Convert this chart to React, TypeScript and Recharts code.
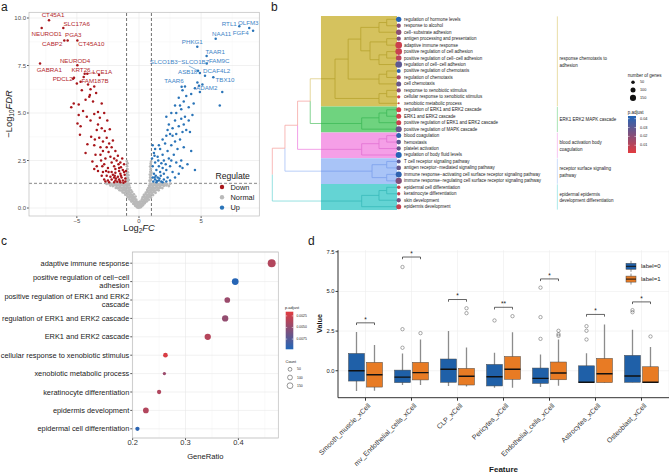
import React from "react";
import {
  ScatterChart,
  Scatter,
  ComposedChart,
  Bar,
  XAxis,
  YAxis,
  CartesianGrid,
  ReferenceLine,
  ReferenceArea,
} from "recharts";

const FONT = "'Liberation Sans', Arial, Helvetica, sans-serif";

// ---------- a: volcano ----------
const DOWN_PTS: [number, number][] = [
  [-5.3, 6.8], [-5.0, 6.55], [-4.7, 6.65], [-4.45, 6.9], [-4.1, 6.5], [-3.9, 6.25], [-3.6, 6.4], [-3.45, 6.05],
  [-3.95, 5.95], [-4.6, 6.2], [-5.25, 5.5], [-5.45, 5.3], [-4.85, 5.45], [-4.3, 5.7], [-4.0, 5.85], [-3.7, 5.6],
  [-3.3, 5.05], [-4.5, 5.1], [-4.85, 4.9], [-4.95, 4.45], [-4.7, 4.3], [-4.75, 3.85], [-4.2, 4.8], [-3.9, 4.6],
  [-3.6, 4.95], [-3.3, 4.4], [-3.0, 4.2], [-2.75, 4.05], [-3.4, 4.1], [-3.85, 3.75], [-3.2, 3.7], [-2.9, 3.5],
  [-2.6, 3.7], [-2.4, 3.4], [-4.15, 3.35], [-3.6, 3.3], [-3.1, 3.2], [-2.2, 3.2], [-2.9, 3.0], [-2.45, 2.95],
  [-2.1, 3.55], [-1.9, 3.0], [-4.3, 2.9], [-3.5, 2.8], [-2.7, 2.6], [-3.05, 2.5], [-2.3, 2.7], [-1.8, 2.5],
  [-1.5, 2.4], [-1.2, 2.3], [-3.75, 2.45], [-3.4, 2.2], [-2.8, 2.3], [-2.5, 2.1], [-2.0, 2.2], [-1.6, 2.1],
  [-1.3, 2.0], [-3.3, 1.95], [-2.9, 1.9], [-2.2, 1.9], [-1.9, 1.85], [-1.5, 1.8], [-1.15, 1.75], [-3.0, 1.7],
  [-2.6, 1.7], [-2.3, 1.65], [-2.0, 1.6], [-1.7, 1.65], [-1.4, 1.6], [-1.1, 1.55], [-2.8, 1.5], [-2.5, 1.45],
  [-2.2, 1.5], [-1.9, 1.45], [-1.6, 1.5], [-1.3, 1.45], [-1.1, 1.4], [-2.4, 1.35], [-2.0, 1.35], [-1.75, 1.38],
  [-1.5, 1.35], [-1.25, 1.33], [-2.7, 1.4], [-1.85, 1.55], [-1.45, 1.7], [-1.2, 1.9], [-2.1, 1.75], [-2.45, 1.9],
  [-1.65, 2.3], [-2.6, 3.2], [-3.1, 2.8], [-2.0, 2.6], [-1.35, 2.6], [-2.2, 2.4], [-3.55, 3.6], [-2.35, 4.15],
  [-3.15, 4.75], [-2.55, 4.6], [-2.8, 5.0], [-3.0, 5.5], [-1.7, 2.75], [-1.45, 2.15], [-1.05, 1.95], [-1.6, 1.95],
  [-2.65, 1.95], [-3.6, 2.05], [-2.95, 2.2], [-1.9, 2.05], [-1.55, 1.42], [-1.95, 1.7],
];

const UP_PTS: [number, number][] = [
  [1.1, 3.3], [1.2, 2.9], [1.05, 2.6], [1.3, 2.4], [1.1, 2.2], [1.5, 2.7], [1.7, 3.1], [1.9, 2.8], [2.1, 3.4],
  [2.3, 3.0], [2.0, 2.5], [1.6, 2.2], [1.4, 2.0], [1.2, 1.8], [1.1, 1.6], [1.3, 1.5], [1.15, 1.4], [1.4, 1.35],
  [1.6, 1.45], [1.8, 1.4], [2.0, 1.5], [1.5, 1.6], [1.75, 1.7], [2.0, 1.8], [2.3, 1.6], [2.2, 2.0], [2.5, 2.2],
  [2.7, 1.9], [2.4, 2.6], [2.8, 2.8], [1.9, 2.1], [1.7, 1.9], [2.5, 1.45], [2.9, 1.6], [3.2, 1.8], [3.5, 2.1],
  [3.9, 2.3], [4.5, 2.0], [3.4, 2.5], [3.0, 2.4], [2.6, 3.3], [2.9, 3.5], [2.7, 3.8], [3.1, 3.1], [3.3, 3.6],
  [2.5, 3.9], [3.6, 3.2], [4.2, 3.0], [3.8, 4.1], [4.1, 4.0], [3.5, 4.0], [3.2, 4.3], [2.9, 4.6], [2.4, 4.4],
  [2.2, 4.8], [2.6, 5.0], [3.0, 5.0], [3.4, 4.7], [3.7, 4.8], [4.3, 4.9], [2.9, 5.4], [3.3, 5.4], [3.6, 5.6],
  [4.0, 5.3], [3.2, 5.8], [3.5, 6.2], [3.8, 5.9], [4.2, 6.0], [4.5, 6.3], [3.4, 5.2], [4.4, 5.5], [2.7, 4.2],
  [3.0, 3.9], [4.0, 4.6], [3.6, 4.4], [6.7, 6.1], [6.5, 5.4], [4.9, 6.1], [5.1, 6.5], [4.7, 6.6], [3.7, 6.4],
  [2.3, 4.1], [1.9, 3.6], [2.2, 3.8], [1.6, 3.3], [1.3, 3.1], [1.9, 1.35], [2.2, 1.4], [1.35, 1.7], [2.6, 2.5],
  [3.3, 2.2], [2.15, 2.3], [1.55, 2.5], [1.25, 2.75], [1.8, 2.35], [1.45, 1.42], [1.65, 1.55], [1.25, 1.6],
];

const NORMAL_PTS: [number, number][] = [
  [-0.15, 0.04], [-0.05, 0.02], [0.06, 0.03], [0.16, 0.05],
  [-0.3, 0.12], [-0.2, 0.1], [-0.1, 0.13], [0.0, 0.09], [0.1, 0.12], [0.21, 0.1], [0.31, 0.14],
  [-0.46, 0.22], [-0.35, 0.2], [-0.24, 0.24], [-0.12, 0.21], [0.02, 0.2], [0.13, 0.23], [0.25, 0.2], [0.36, 0.22], [0.45, 0.25],
  [-0.61, 0.34], [-0.5, 0.36], [-0.4, 0.32], [-0.29, 0.35], [-0.18, 0.33], [-0.05, 0.3], [0.07, 0.33], [0.2, 0.35], [0.31, 0.31], [0.42, 0.36], [0.52, 0.33], [0.63, 0.35],
  [-0.76, 0.46], [-0.65, 0.44], [-0.55, 0.48], [-0.45, 0.45], [-0.34, 0.47], [-0.22, 0.44], [0.24, 0.46], [0.36, 0.43], [0.47, 0.47], [0.58, 0.45], [0.68, 0.48], [0.79, 0.44],
  [-0.92, 0.58], [-0.81, 0.56], [-0.7, 0.6], [-0.6, 0.57], [-0.5, 0.59], [-0.4, 0.56], [-0.28, 0.6], [0.3, 0.57], [0.42, 0.6], [0.52, 0.56], [0.63, 0.59], [0.74, 0.57], [0.85, 0.6], [0.96, 0.56],
  [-1.1, 0.7], [-0.99, 0.68], [-0.88, 0.72], [-0.76, 0.69], [-0.64, 0.71], [-0.52, 0.68], [-0.41, 0.72], [0.4, 0.69], [0.53, 0.72], [0.65, 0.68], [0.77, 0.71], [0.9, 0.69], [1.02, 0.72], [1.13, 0.68],
  [-1.31, 0.82], [-1.18, 0.8], [-1.05, 0.84], [-0.93, 0.81], [-0.8, 0.83], [-0.68, 0.8], [-0.55, 0.84], [0.55, 0.81], [0.68, 0.84], [0.8, 0.8], [0.94, 0.83], [1.06, 0.81], [1.2, 0.84], [1.33, 0.8],
  [-1.56, 0.94], [-1.43, 0.92], [-1.3, 0.96], [-1.17, 0.93], [-1.04, 0.95], [-0.9, 0.92], [-0.77, 0.96], [-0.64, 0.93], [0.66, 0.95], [0.8, 0.92], [0.92, 0.96], [1.05, 0.93], [1.18, 0.95], [1.32, 0.92], [1.45, 0.96], [1.58, 0.93],
  [-1.86, 1.06], [-1.7, 1.04], [-1.56, 1.08], [-1.42, 1.05], [-1.28, 1.07], [-1.14, 1.04], [-1.0, 1.08], [-0.86, 1.05], [-0.73, 1.07], [0.75, 1.05], [0.88, 1.08], [1.02, 1.04], [1.16, 1.07], [1.3, 1.05], [1.44, 1.08], [1.58, 1.04], [1.72, 1.07], [1.88, 1.05],
  [-2.3, 1.18], [-2.1, 1.16], [-1.95, 1.2], [-1.8, 1.17], [-1.65, 1.19], [-1.5, 1.16], [-1.35, 1.2], [-1.2, 1.17], [-1.06, 1.19], [-0.92, 1.16], [-0.8, 1.2], [0.82, 1.17], [0.95, 1.19], [1.1, 1.16], [1.24, 1.2], [1.38, 1.17], [1.52, 1.19], [1.68, 1.16], [1.84, 1.2], [2.0, 1.17], [2.2, 1.19], [2.4, 1.16],
  [-2.6, 1.27], [-2.4, 1.29], [-2.2, 1.26], [-2.0, 1.28], [-1.85, 1.25], [-1.7, 1.29], [-1.55, 1.27], [-1.4, 1.28], [-1.25, 1.26], [-1.1, 1.29], [-0.95, 1.27], [-0.85, 1.28], [0.88, 1.28], [1.0, 1.26], [1.15, 1.29], [1.3, 1.27], [1.45, 1.28], [1.6, 1.25], [1.75, 1.29], [1.9, 1.27], [2.05, 1.28], [2.25, 1.26], [2.5, 1.28],
  [-0.98, 1.45], [-0.9, 1.42], [-0.82, 1.47], [0.85, 1.44], [0.93, 1.46], [-0.99, 1.6], [-0.88, 1.58], [0.9, 1.61], [0.97, 1.57],
  [-0.95, 1.75], [-0.86, 1.73], [0.88, 1.76], [0.96, 1.74], [-0.97, 1.9], [-0.9, 1.88], [0.92, 1.91], [0.99, 1.87],
  [-0.93, 2.05], [0.95, 2.04], [-0.96, 2.2], [0.9, 2.18], [0.98, 2.22], [-0.92, 2.35], [0.94, 2.33], [-0.98, 2.47], [0.97, 2.44],
];

const DOWN_GENES = ["CT45A1", "NEUROD1", "SLC17A6", "PGA3", "CABP2", "CT45A10", "NEUROD4", "GABRA1", "KRT26", "LCE1A", "PDCL2", "FAM187B"];
const DOWN_GENE_FC = [-7.24, -7.83, -6.09, -6.01, -5.74, -4.96, -4.96, -7.96, -4.37, -4.16, -5.23, -3.22];
const DOWN_GENE_FDR = [9.88, 9.47, 9.47, 8.82, 8.82, 8.82, 7.51, 7.6, 7.07, 7.07, 6.86, 7.0];

const UP_GENES = ["RTL1", "OLFM3", "FGF4", "NAA11", "PHKG1", "TAAR1", "FAM9C", "SLCO1B3−SLCO1B7", "ASB18", "DCAF4L2", "TBX10", "TAAR6", "ADAM2"];
const UP_GENE_FC = [8.07, 8.87, 9.18, 6.17, 4.69, 5.44, 5.45, 4.75, 4.9, 5.31, 5.98, 3.43, 4.83];
const UP_GENE_FDR = [9.56, 9.47, 9.33, 8.91, 8.49, 8.0, 7.6, 7.23, 7.1, 6.96, 6.88, 6.38, 6.44];

// ggrepel-like label offsets (px)
const LABEL_NUDGE: Record<string, [number, number]> = {
  CT45A1: [4, -5.3], NEUROD1: [5, 5.3], SLC17A6: [13.4, -4.7], PGA3: [9, -6], CABP2: [-15.4, 3],
  CT45A10: [14, 3], NEUROD4: [-2.3, -5], GABRA1: [9.3, 5.6], KRT26: [-3.7, -4], LCE1A: [15, -2.4],
  PDCL2: [-11.3, 0.6], FAM187B: [-4, 5.3],
  RTL1: [-10, -3], OLFM3: [-1, -5.7], FGF4: [-12.4, 2], NAA11: [6, -5.4], PHKG1: [-5, -4.7],
  TAAR1: [8.7, -4.7], FAM9C: [12.5, -3.5], "SLCO1B3−SLCO1B7": [-18.5, -9.5], ASB18: [-12.2, -1.8],
  DCAF4L2: [11.7, -5.1], TBX10: [11.7, 2], TAAR6: [-7.6, -6.5], ADAM2: [7.7, 1.4],
};
const CONNECTED = ["LCE1A", "SLCO1B3−SLCO1B7"];

const A_X_TICKS = [-5, 0, 5];
const A_X_MINOR = [-7.5, -2.5, 2.5, 7.5];
const A_Y_TICKS = [0, 2.5, 5, 7.5, 10];
const A_Y_MINOR = [1.25, 3.75, 6.25, 8.75];

const DOWN_COL = "#a8161b";
const UP_COL = "#2a74b8";
const NORMAL_COL = "#b9b9b9";

// ---------- b: enrichment tree ----------
const B_TERMS = [
  "regulation of hormone levels", "response to alcohol", "cell−substrate adhesion", "antigen processing and presentation",
  "adaptive immune response", "positive regulation of cell adhesion", "positive regulation of cell−cell adhesion",
  "regulation of cell−cell adhesion", "positive regulation of chemotaxis", "regulation of chemotaxis", "cell chemotaxis",
  "response to xenobiotic stimulus", "cellular response to xenobiotic stimulus", "xenobiotic metabolic process",
  "regulation of ERK1 and ERK2 cascade", "ERK1 and ERK2 cascade", "positive regulation of ERK1 and ERK2 cascade",
  "positive regulation of MAPK cascade", "blood coagulation", "hemostasis", "platelet activation",
  "regulation of body fluid levels", "T cell receptor signaling pathway", "antigen receptor−mediated signaling pathway",
  "immune response−activating cell surface receptor signaling pathway",
  "immune response−regulating cell surface receptor signaling pathway", "epidermal cell differentiation",
  "keratinocyte differentiation", "skin development", "epidermis development",
];
const B_COUNT = [114, 75, 114, 75, 177, 177, 125, 177, 64, 75, 100, 75, 45, 16, 100, 100, 100, 144, 100, 87, 75, 144, 64, 87, 144, 160, 52, 45, 75, 100];
const B_PADJ = [0.042, 0.02, 0.02, 0.022, 0.006, 0.007, 0.01, 0.03, 0.04, 0.015, 0.028, 0.02, 0.006, 0.006, 0.005, 0.005, 0.006, 0.028, 0.04, 0.03, 0.028, 0.042, 0.03, 0.028, 0.04, 0.022, 0.008, 0.008, 0.025, 0.008];

// merges: [id, left, right, height]
const B_MERGES: [string, string, string, number][] = [
  ["y1", "t0", "t1", 0.095], ["y2", "y1", "t2", 0.156], ["y3", "t3", "t4", 0.095], ["y4", "t5", "t6", 0.095],
  ["y5", "y4", "t7", 0.156], ["y6", "y3", "y5", 0.227], ["y7", "y2", "y6", 0.3], ["y8", "t8", "t9", 0.095],
  ["y9", "y8", "t10", 0.156], ["y10", "y7", "y9", 0.4], ["y11", "t11", "t12", 0.095], ["y12", "y11", "t13", 0.156],
  ["y13", "y10", "y12", 0.504],
  ["g1", "t14", "t15", 0.095], ["g2", "g1", "t16", 0.156], ["g3", "g2", "t17", 0.293],
  ["p1", "t18", "t19", 0.095], ["p2", "p1", "t20", 0.156], ["p3", "p2", "t21", 0.293],
  ["b1", "t22", "t23", 0.095], ["b2", "t24", "t25", 0.095], ["b3", "b1", "b2", 0.211],
  ["c1", "t26", "t27", 0.095], ["c2", "c1", "t28", 0.156], ["c3", "c2", "t29", 0.293],
  ["o1", "y13", "g3", 0.7], ["o2", "o1", "p3", 0.8], ["o3", "o2", "b3", 0.9], ["o4", "o3", "c3", 1.0],
];
const B_CLUSTER_ROOTS = ["y13", "g3", "p3", "b3", "c3"];
const B_CLUSTER_FROM = [0, 14, 18, 22, 26];
const B_CLUSTER_TO = [13, 17, 21, 25, 29];
const B_CLUSTER_LABELS = [
  ["response chemotaxis to", "adhesion"], ["ERK1 ERK2 MAPK cascade"], ["blood activation body", "coagulation"],
  ["receptor surface signaling", "pathway"], ["epidermal epidermis", "development differentiation"],
];

const BAND_FILL = ["#d5c25e", "#6fd37f", "#f59fe7", "#a9c4f7", "#64d4d4"];
const BAND_LINE = ["#b6a12c", "#3cb856", "#e26fd2", "#7a9fec", "#36b8b8"];
const BAND_LINK = ["#dccb7c", "#5cc46e", "#ee82e0", "#a2bdf6", "#74d7d7"];
const BAND_BAR = ["#e3d690", "#95dea2", "#f6b8ef", "#c2d5fa", "#98e4e4"];
const SALMON = "#f5a3a0";
const BAND_EDGE = 0.615;
const BAR_H = -1.255;

// ---------- c: dot plot ----------
const C_TERMS = [
  "adaptive immune response", "positive regulation of cell−cell\nadhesion",
  "positive regulation of ERK1 and ERK2\ncascade", "regulation of ERK1 and ERK2 cascade", "ERK1 and ERK2 cascade",
  "cellular response to xenobiotic stimulus", "xenobiotic metabolic process", "keratinocyte differentiation",
  "epidermis development", "epidermal cell differentiation",
];
const C_RATIO = [0.463, 0.394, 0.379, 0.375, 0.342, 0.262, 0.26, 0.25, 0.225, 0.209];
const C_COUNT = [156, 110, 79, 97, 97, 54, 27, 45, 79, 45];
const C_PADJ = [0.0036, 0.0095, 0.0046, 0.0049, 0.0035, 0.002, 0.0046, 0.0037, 0.0036, 0.0093];

// ---------- d: box plots ----------
const FEATURES = [
  "Smooth_muscle_xCell", "mv_Endothelial_cells_xCell", "CLP_xCell", "Pericytes_xCell",
  "Endothelial_cells_xCell", "Astrocytes_xCell", "Osteoblast_xCell",
];
const LO0 = [-1.28, -0.9, -0.96, -1.07, -1.03, -0.73, -0.73];
const Q1_0 = [-0.65, -0.75, -0.73, -0.96, -0.8, -0.73, -0.73];
const MED0 = [0.0, -0.4, 0.09, -0.38, -0.48, -0.73, -0.33];
const Q3_0 = [1.09, 0.04, 0.74, 0.4, 0.17, 0.31, 0.97];
const HI0 = [2.45, 1.09, 2.5, 1.13, 1.03, 1.11, 2.58];
const OUT0 = [[], [6.54, 2.62, 1.45], [], [3.17], [5.24, 3.38, 2.01], [2.81, 2.52, 1.97], [3.82, 3.69]];
const LO1 = [-1.26, -0.9, -1.0, -1.07, -0.94, -0.75, -0.73];
const Q1_1 = [-1.03, -0.58, -0.9, -0.54, -0.57, -0.75, -0.73];
const MED1 = [-0.25, -0.12, -0.35, 0.09, -0.14, -0.19, -0.73];
const Q3_1 = [0.53, 0.53, 0.15, 0.9, 0.55, 0.78, 0.25];
const HI1 = [1.62, 1.97, 1.47, 2.43, 1.97, 2.92, 1.49];
const OUT1 = [[], [2.37], [3.94, 3.63], [3.44], [2.52, 2.3, 2.2], [], [2.16]];
const SIG_Y = [3.02, 7.17, 4.49, 4.0, 5.79, 3.55, 4.34];
const SIG_TXT = ["*", "*", "*", "**", "*", "*", "*"];

const BLUE_BOX = "#1f60a8";
const ORANGE_BOX = "#e87b24";
const BAR_SIZE = 16;
const BAR_GAP = 2;

// ---------- helpers ----------
const RED_END = [226, 59, 63];
const BLUE_END = [33, 102, 184];
function gradient(t: number) {
  const u = Math.max(0, Math.min(1, t));
  const c = RED_END.map((r, k) => Math.round(r + (BLUE_END[k] - r) * u));
  return `rgb(${c[0]},${c[1]},${c[2]})`;
}
const colorB = (p: number) => gradient((p - 0.0013) / (0.043 - 0.0013));
const colorC = (p: number) => gradient((p - 0.0016) / (0.0097 - 0.0016));
const radiusB = (n: number) => 0.25 * Math.sqrt(n);
const radiusC = (n: number) => 0.32 * Math.sqrt(n);
const minus = (v: number) => (v < 0 ? `−${-v}` : `${v}`);

const toPts = (arr: [number, number][]) => arr.map(([x, y]) => ({ x, y }));
const normalData = toPts(NORMAL_PTS);
const downData = toPts(DOWN_PTS);
const upData = toPts(UP_PTS);
const downGeneData = DOWN_GENES.map((gene, i) => ({ gene, x: DOWN_GENE_FC[i], y: DOWN_GENE_FDR[i] }));
const upGeneData = UP_GENES.map((gene, i) => ({ gene, x: UP_GENE_FC[i], y: UP_GENE_FDR[i] }));

const dot = (fill: string, r: number, opacity = 1) => (p: any) =>
  <circle cx={p.cx} cy={p.cy} r={r} fill={fill} fillOpacity={opacity} />;

const geneDot = (fill: string, textFill: string) => (p: any) => {
  const { cx, cy, payload } = p;
  const [dx, dy] = LABEL_NUDGE[payload.gene] ?? [0, -5];
  return (
    <g>
      <circle cx={cx} cy={cy} r={1.25} fill={fill} />
      {CONNECTED.includes(payload.gene) && (
        <line x1={cx} y1={cy} x2={cx + dx * 0.5} y2={cy + dy * 0.5} stroke={textFill} strokeWidth={0.6} />
      )}
      <text x={cx + dx} y={cy + dy} textAnchor="middle" dominantBaseline="central" fontSize={6.2} fill={textFill}>
        {payload.gene}
      </text>
    </g>
  );
};

function VolcanoPanel() {
  const tickStyle = { fontSize: 6, fill: "#4d4d4d" };
  return (
    <div style={{ position: "absolute", left: 0, top: 0 }}>
      <ScatterChart width={268} height={240} margin={{ top: 12.3, right: 8.7, bottom: 0, left: 0 }}>
        <CartesianGrid stroke="#f4f4f4" horizontalValues={A_Y_MINOR} verticalValues={A_X_MINOR} strokeWidth={0.5} />
        <CartesianGrid stroke="#e8e8e8" horizontalValues={A_Y_TICKS} verticalValues={A_X_TICKS} strokeWidth={0.6} />
        <XAxis type="number" dataKey="x" domain={[-8.85, 9.68]} ticks={A_X_TICKS} allowDataOverflow
          tick={tickStyle} tickLine={{ stroke: "#555" }} tickSize={2} tickMargin={1} axisLine={false} height={24}
          tickFormatter={minus} />
        <YAxis type="number" dataKey="y" domain={[-0.42, 10.3]} ticks={A_Y_TICKS} allowDataOverflow width={29}
          tick={tickStyle} tickLine={{ stroke: "#555" }} tickSize={2} tickMargin={1} axisLine={false}
          tickFormatter={(v: number) => v.toFixed(1)} />
        <Scatter data={normalData} shape={dot(NORMAL_COL, 1.4)} isAnimationActive={false} />
        <Scatter data={downData} shape={dot(DOWN_COL, 1.25)} isAnimationActive={false} />
        <Scatter data={upData} shape={dot(UP_COL, 1.25)} isAnimationActive={false} />
        <Scatter data={downGeneData} shape={geneDot(DOWN_COL, "#b3262b")} isAnimationActive={false} />
        <Scatter data={upGeneData} shape={geneDot(UP_COL, "#3d84c6")} isAnimationActive={false} />
        <ReferenceLine x={-1} stroke="#333" strokeDasharray="3 2" strokeWidth={0.7} />
        <ReferenceLine x={1} stroke="#333" strokeDasharray="3 2" strokeWidth={0.7} />
        <ReferenceLine y={1.3} stroke="#555" strokeDasharray="3 2" strokeWidth={0.7} />
      </ScatterChart>
    </div>
  );
}

// tree geometry in data units (height, term index)
const nodeY: Record<string, number> = {};
const nodeH: Record<string, number> = {};
B_TERMS.forEach((_, i) => {
  nodeY["t" + i] = i;
  nodeH["t" + i] = 0;
});
B_MERGES.forEach(([id, l, r, h]) => {
  nodeY[id] = (nodeY[l] + nodeY[r]) / 2;
  nodeH[id] = h;
});
type Seg = { x1: number; y1: number; x2: number; y2: number; color: string };
const treeSegs: Seg[] = [];
const groupOf: Record<string, number> = { y: 0, g: 1, p: 2, b: 3, c: 4 };
B_MERGES.forEach(([id, l, r, h]) => {
  [l, r].forEach((child) => {
    const ny = nodeY[id];
    const cy = nodeY[child];
    const ch = nodeH[child];
    if (id[0] === "o") {
      const k = B_CLUSTER_ROOTS.indexOf(child);
      const col = k >= 0 ? BAND_LINK[k] : SALMON;
      treeSegs.push({ x1: h, y1: ny, x2: h, y2: cy, color: col });
      if (k >= 0) {
        treeSegs.push({ x1: h, y1: cy, x2: BAND_EDGE, y2: cy, color: col });
        treeSegs.push({ x1: BAND_EDGE, y1: cy, x2: ch, y2: cy, color: BAND_LINE[k] });
      } else {
        treeSegs.push({ x1: h, y1: cy, x2: ch, y2: cy, color: SALMON });
      }
    } else {
      const col = BAND_LINE[groupOf[id[0]]];
      treeSegs.push({ x1: h, y1: ny, x2: h, y2: cy, color: col });
      treeSegs.push({ x1: h, y1: cy, x2: ch, y2: cy, color: col });
    }
  });
});
const termData = B_TERMS.map((name, i) => ({ h: 0, i, name, count: B_COUNT[i], padj: B_PADJ[i] }));

const termDot = (p: any) => {
  const { cx, cy, payload } = p;
  return (
    <g>
      <circle cx={cx} cy={cy} r={radiusB(payload.count)} fill={colorB(payload.padj)} />
      <text x={cx + 5.3} y={cy} dominantBaseline="central" fontSize={4.5} fill="#1a1a1a">
        {payload.name}
      </text>
    </g>
  );
};

function TreePanel() {
  return (
    <div style={{ position: "absolute", left: 268, top: 0 }}>
      <ScatterChart width={401} height={220} margin={{ top: 0, right: 0, bottom: 0, left: 0 }}>
        <XAxis type="number" dataKey="h" domain={[-2.138, 1.034]} reversed hide allowDataOverflow />
        <YAxis type="number" dataKey="i" domain={[-2.987, 31.06]} reversed hide allowDataOverflow />
        {B_CLUSTER_FROM.map((f, k) => (
          <ReferenceArea key={"band" + k} x1={BAND_EDGE} x2={0.013} y1={f - 0.5} y2={B_CLUSTER_TO[k] + 0.5}
            fill={BAND_FILL[k]} fillOpacity={1} stroke="none" />
        ))}
        {treeSegs.map((s, k) => (
          <ReferenceLine key={"seg" + k} segment={[{ x: s.x1, y: s.y1 }, { x: s.x2, y: s.y2 }]}
            stroke={s.color} strokeWidth={0.75} />
        ))}
        {B_CLUSTER_FROM.map((f, k) => (
          <ReferenceLine key={"bar" + k} segment={[{ x: BAR_H, y: f - 0.45 }, { x: BAR_H, y: B_CLUSTER_TO[k] + 0.45 }]}
            stroke={BAND_BAR[k]} strokeWidth={0.8} />
        ))}
        <Scatter data={termData} shape={termDot} isAnimationActive={false} />
      </ScatterChart>
    </div>
  );
}

const cData = C_TERMS.map((term, i) => ({ term, ratio: C_RATIO[i], count: C_COUNT[i], padj: C_PADJ[i] }));

const TermTick = ({ x, y, payload }: any) => {
  const lines = String(payload.value).split("\n");
  const first = 0.35 - (lines.length - 1) * 0.54;
  return (
    <text x={x} y={y} textAnchor="end" fontSize={7.4} fill="#1a1a1a" stroke="none">
      {lines.map((ln, k) => (
        <tspan key={k} x={x} dy={k === 0 ? `${first}em` : "1.08em"}>{ln}</tspan>
      ))}
    </text>
  );
};

function DotPanel() {
  return (
    <div style={{ position: "absolute", left: 0, top: 240 }}>
      <ScatterChart width={282} height={233} margin={{ top: 12, right: 3.7, bottom: 0, left: 0 }}>
        <CartesianGrid stroke="#f4f4f4" verticalValues={[0.25, 0.35, 0.45]} horizontal={false} strokeWidth={0.5} />
        <CartesianGrid stroke="#e8e8e8" verticalValues={[0.2, 0.3, 0.4]} strokeWidth={0.6} />
        <XAxis type="number" dataKey="ratio" domain={[0.1993, 0.4755]} ticks={[0.2, 0.3, 0.4]} allowDataOverflow
          tick={{ fontSize: 7.5, fill: "#333" }} tickLine={{ stroke: "#555" }} tickSize={2} tickMargin={0}
          axisLine={false} height={35} />
        <YAxis type="category" dataKey="term" reversed allowDuplicatedCategory={false} width={132.3}
          padding={{ top: 2, bottom: 0 }} tick={<TermTick />} tickLine={{ stroke: "#555" }} tickSize={2}
          tickMargin={1} axisLine={false} interval={0} />
        <Scatter data={cData} isAnimationActive={false}
          shape={(p: any) => (
            <circle cx={p.cx} cy={p.cy} r={radiusC(p.payload.count)} fill={colorC(p.payload.padj)} />
          )} />
      </ScatterChart>
    </div>
  );
}

const boxData = FEATURES.map((feature, k) => ({
  feature,
  g: [
    { lo: LO0[k], q1: Q1_0[k], med: MED0[k], q3: Q3_0[k], hi: HI0[k], out: OUT0[k] },
    { lo: LO1[k], q1: Q1_1[k], med: MED1[k], q3: Q3_1[k], hi: HI1[k], out: OUT1[k] },
  ],
  sig: SIG_Y[k],
  sigText: SIG_TXT[k],
}));

function boxShape(gi: 0 | 1, fill: string) {
  return (props: any) => {
    const { x, y, width, height, payload } = props;
    const s = payload.g[gi];
    const top = Math.min(y, y + height);
    const bot = Math.max(y, y + height);
    const span = s.hi - s.lo || 1;
    const py = (v: number) => top + ((s.hi - v) / span) * (bot - top);
    const cx = x + width / 2;
    const other = cx - width - BAR_GAP;
    return (
      <g>
        <line x1={cx} x2={cx} y1={py(s.hi)} y2={py(s.lo)} stroke="#8c8c8c" strokeWidth={1.3} />
        <rect x={x} y={py(s.q3)} width={width} height={Math.max(0.5, py(s.q1) - py(s.q3))} fill={fill}
          stroke="#4a4a4a" strokeWidth={0.5} />
        <line x1={x} x2={x + width} y1={py(s.med)} y2={py(s.med)} stroke="#111" strokeWidth={1.4} />
        {s.out.map((o: number, k: number) => (
          <circle key={k} cx={cx} cy={py(o)} r={1.7} fill="none" stroke="#555" strokeWidth={0.5} />
        ))}
        {gi === 1 && (
          <g>
            <path d={`M${other},${py(payload.sig) + 2.2}V${py(payload.sig)}H${cx}V${py(payload.sig) + 2.2}`}
              fill="none" stroke="#222" strokeWidth={0.7} />
            <text x={(other + cx) / 2} y={py(payload.sig) - 1.2} textAnchor="middle" fontSize={6.5} fill="#222">
              {payload.sigText}
            </text>
          </g>
        )}
      </g>
    );
  };
}

const FeatureTick = ({ x, y, payload }: any) => (
  <text x={x + 2} y={y} transform={`rotate(-45 ${x + 2} ${y})`} textAnchor="end" dy="0.7em" fontSize={7}
    fill="#333" stroke="none">
    {payload.value}
  </text>
);

function BoxPanel() {
  return (
    <div style={{ position: "absolute", left: 290, top: 240 }}>
      <ComposedChart width={379} height={233} data={boxData} barGap={BAR_GAP}
        margin={{ top: 10.2, right: 0, bottom: 0, left: 0 }}>
        <CartesianGrid stroke="#ececec" horizontalValues={[-1.25, 0, 1.25, 2.5, 3.75, 5, 6.25, 7.5]} strokeWidth={0.6} />
        <XAxis dataKey="feature" type="category" interval={0} padding={{ left: 4.5, right: 4.5 }} height={75.3}
          tick={<FeatureTick />} tickLine={{ stroke: "#333" }} tickSize={3} tickMargin={2}
          axisLine={{ stroke: "#333", strokeWidth: 1 }} />
        <YAxis type="number" domain={[-1.7, 7.6]} ticks={[0, 2.5, 5, 7.5]} allowDataOverflow width={48}
          tick={{ fontSize: 5.8, fill: "#222" }} tickLine={{ stroke: "#333" }} tickSize={2.5} tickMargin={1}
          axisLine={{ stroke: "#333", strokeWidth: 1 }} tickFormatter={(v: number) => v.toFixed(1)} />
        <Bar dataKey={(d: any) => [d.g[0].lo, d.g[0].hi]} barSize={BAR_SIZE} shape={boxShape(0, BLUE_BOX)}
          isAnimationActive={false} />
        <Bar dataKey={(d: any) => [d.g[1].lo, d.g[1].hi]} barSize={BAR_SIZE} shape={boxShape(1, ORANGE_BOX)}
          isAnimationActive={false} />
      </ComposedChart>
    </div>
  );
}

function Overlay() {
  const t = { fill: "#1a1a1a", fontFamily: FONT };
  const clusterY = [58.3, 119.3, 142.3, 168, 193.7];
  return (
    <svg width={669} height={473} style={{ position: "absolute", left: 0, top: 0, pointerEvents: "none" }}>
      <defs>
        <linearGradient id="gb" x1="0" y1="0" x2="0" y2="1">
          <stop offset="0" stopColor={colorB(0.043)} />
          <stop offset="1" stopColor={colorB(0.0013)} />
        </linearGradient>
        <linearGradient id="gc" x1="0" y1="0" x2="0" y2="1">
          <stop offset="0" stopColor={colorC(0.0016)} />
          <stop offset="1" stopColor={colorC(0.0097)} />
        </linearGradient>
      </defs>
      {/* panel letters */}
      <text x={1} y={11} fontSize={12} {...t}>a</text>
      <text x={271} y={11} fontSize={12} {...t}>b</text>
      <text x={1} y={245} fontSize={12} {...t}>c</text>
      <text x={308} y={245} fontSize={12} {...t}>d</text>

      {/* a: frame, titles, legend */}
      <rect x={29} y={12.3} width={230.3} height={203.7} fill="none" stroke="#bcbcbc" strokeWidth={0.7} />
      <text transform="translate(11.5 114) rotate(-90)" textAnchor="middle" fontSize={9.3} {...t}>
        −Log<tspan fontSize={6.5} dy={2}>10</tspan><tspan dy={-2} fontStyle="italic">FDR</tspan>
      </text>
      <text x={139} y={231} textAnchor="middle" fontSize={9.3} {...t}>
        Log<tspan fontSize={6.5} dy={2}>2</tspan><tspan dy={-2} fontStyle="italic">FC</tspan>
      </text>
      <text x={215.5} y={179} fontSize={8.6} {...t}>Regulate</text>
      {[["Down", DOWN_COL], ["Normal", NORMAL_COL], ["Up", UP_COL]].map(([lab, col], k) => (
        <g key={lab}>
          <circle cx={222} cy={187 + k * 10.3} r={2.2} fill={col} />
          <text x={230.5} y={187 + k * 10.3} dominantBaseline="central" fontSize={7.4} {...t}>{lab}</text>
        </g>
      ))}

      {/* b: cluster labels and legends */}
      {B_CLUSTER_LABELS.map((lines, k) => (
        <text key={k} x={559.5} y={clusterY[k]} fontSize={4.5} dominantBaseline="central" {...t}>
          {lines.map((ln, j) => (
            <tspan key={j} x={559.5} dy={j === 0 ? 0 : 6.7}>{ln}</tspan>
          ))}
        </text>
      ))}
      <text x={627.7} y={76.5} fontSize={4.5} {...t}>number of genes</text>
      {[50, 100, 150].map((n, k) => (
        <g key={n}>
          <circle cx={633} cy={82.3 + k * 7.8} r={radiusB(n)} fill="#111" />
          <text x={640} y={82.3 + k * 7.8} fontSize={3.8} dominantBaseline="central" {...t}>{n}</text>
        </g>
      ))}
      <text x={627.7} y={114} fontSize={4.5} {...t}>p.adjust</text>
      <rect x={628} y={116} width={8} height={37} fill="url(#gb)" />
      {[0.04, 0.03, 0.02, 0.01].map((v) => {
        const yy = 153 - ((v - 0.0013) / (0.043 - 0.0013)) * 37;
        return (
          <g key={v}>
            <line x1={628} x2={629.6} y1={yy} y2={yy} stroke="#fff" strokeWidth={0.5} />
            <line x1={634.4} x2={636} y1={yy} y2={yy} stroke="#fff" strokeWidth={0.5} />
            <text x={640} y={yy} fontSize={3.8} dominantBaseline="central" {...t}>{v.toFixed(2)}</text>
          </g>
        );
      })}

      {/* c: frame, title, legends */}
      <rect x={132.3} y={252} width={146} height={186} fill="none" stroke="#bcbcbc" strokeWidth={0.7} />
      <text x={205.3} y={459} textAnchor="middle" fontSize={7.6} {...t}>GeneRatio</text>
      <text x={285} y={309} fontSize={4} {...t}>p.adjust</text>
      <rect x={285.7} y={311.7} width={7.6} height={37.6} fill="url(#gc)" />
      {[0.0025, 0.005, 0.0075].map((v) => {
        const yy = 311.7 + ((v - 0.0016) / (0.0097 - 0.0016)) * 37.6;
        return (
          <g key={v}>
            <line x1={285.7} x2={287.2} y1={yy} y2={yy} stroke="#fff" strokeWidth={0.5} />
            <line x1={291.8} x2={293.3} y1={yy} y2={yy} stroke="#fff" strokeWidth={0.5} />
            <text x={296.5} y={yy} fontSize={3.4} dominantBaseline="central" {...t}>{v.toFixed(4)}</text>
          </g>
        );
      })}
      <text x={285.5} y={363} fontSize={4} {...t}>Count</text>
      {[50, 100, 150].map((n, k) => (
        <g key={n}>
          <circle cx={290} cy={369.3 + k * 8.2} r={1.9 + k * 0.5} fill="none" stroke="#333" strokeWidth={0.5} />
          <text x={297} y={369.3 + k * 8.2} fontSize={3.4} dominantBaseline="central" {...t}>{n}</text>
        </g>
      ))}

      {/* d: titles and legend */}
      <text transform="translate(322 323.5) rotate(-90)" textAnchor="middle" fontSize={7.2} fontWeight="bold" {...t}>Value</text>
      <text x={503.5} y={472} textAnchor="middle" fontSize={8} fontWeight="bold" {...t}>Feature</text>
      {[["label=0", BLUE_BOX], ["label=1", ORANGE_BOX]].map(([lab, col], k) => {
        const cy = 266.3 + k * 12.8;
        return (
          <g key={lab}>
            <line x1={631} x2={631} y1={cy - 5.5} y2={cy + 5.5} stroke="#8c8c8c" strokeWidth={1} />
            <rect x={626} y={cy - 3} width={10} height={6} fill={col} stroke="#4a4a4a" strokeWidth={0.5} />
            <line x1={626} x2={636} y1={cy} y2={cy} stroke="#111" strokeWidth={1} />
            <text x={641} y={cy} fontSize={6} dominantBaseline="central" {...t}>{lab}</text>
          </g>
        );
      })}
    </svg>
  );
}

export default function App() {
  return (
    <div style={{ position: "absolute", left: 0, top: 0, width: 669, height: 473, background: "#fff",
      fontFamily: FONT, overflow: "hidden" }}>
      <VolcanoPanel />
      <TreePanel />
      <DotPanel />
      <BoxPanel />
      <Overlay />
    </div>
  );
}
